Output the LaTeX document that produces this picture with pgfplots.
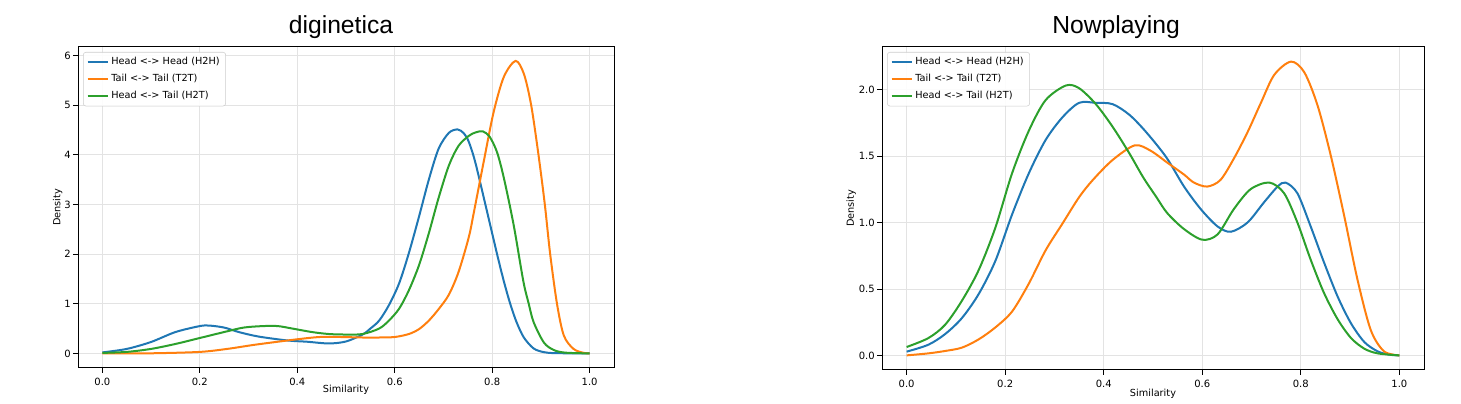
\documentclass[border=0pt]{standalone}
\usepackage{pgfplots}
\pgfplotsset{compat=1.18}
\usepackage{fontspec}
\setmainfont{DejaVu Sans}
\newfontfamily\titlefont{Liberation Sans}
\definecolor{tabblue}{HTML}{1F77B4}
\definecolor{taborange}{HTML}{FF7F0E}
\definecolor{tabgreen}{HTML}{2CA02C}
\pgfplotsset{
  kde/.style={
    anchor=south west, scale only axis,
    xmin=-0.05, xmax=1.05,
    xtick={0,0.2,0.4,0.6,0.8,1.0},
    xticklabels={0.0,0.2,0.4,0.6,0.8,1.0},
    xtick pos=bottom, ytick pos=left,
    tick align=outside, major tick length=3.75pt,
    tick style={black, line width=0.6pt},
    axis line style={black, line width=0.75pt},
    grid=major, grid style={gray!22, line width=0.6pt},
    ticklabel style={font=\fontsize{7.5}{9}\selectfont},
    yticklabel style={inner xsep=1.5pt},
    label style={font=\fontsize{7.3}{8.8}\selectfont},
    xlabel={Similarity}, ylabel={Density},
    legend cell align=left,
    legend style={at={(0,1)}, anchor=north west, xshift=3.75pt, yshift=-3.75pt,
      draw=black!20, rounded corners=2pt, fill=white, fill opacity=0.9, text opacity=1,
      font=\fontsize{7.3}{8.8}\selectfont, row sep=1.6pt, inner xsep=2.5pt, inner ysep=2pt},
    legend image code/.code={\draw[#1] (0pt,0pt) -- (15pt,0pt);},
    every axis plot/.append style={line width=1.5pt, smooth},
  }
}
\begin{document}
\begin{tikzpicture}
\path (0,0) rectangle (1095.75pt,299.25pt);
\node[font=\titlefont\fontsize{18.5}{20}\selectfont] at (255.75pt,279pt) {diginetica};
\node[font=\titlefont\fontsize{18.5}{20}\selectfont] at (837pt,279pt) {Nowplaying};
\begin{axis}[kde, at={(58.5pt,23.25pt)}, width=402pt, height=240.75pt,
  ymin=-0.294, ymax=6.17, ytick={0,1,2,3,4,5,6}, yticklabels={0,1,2,3,4,5,6},
  ylabel style={at={(axis description cs:-0.038,0.5)}, anchor=center},
  xlabel style={at={(axis description cs:0.5,-0.0685)}, anchor=center}]
\addplot[tabblue] coordinates {
(0,0.02) (0.05,0.09) (0.10,0.23) (0.15,0.43) (0.20,0.55) (0.22,0.56) (0.25,0.52)
(0.28,0.43) (0.32,0.34) (0.38,0.26) (0.42,0.235) (0.465,0.20) (0.50,0.24) (0.534,0.38)
(0.55,0.50) (0.568,0.66) (0.588,0.97) (0.609,1.41) (0.629,2.02) (0.65,2.76) (0.67,3.50)
(0.69,4.12) (0.711,4.44) (0.729,4.51) (0.742,4.43) (0.752,4.26) (0.765,3.86) (0.786,3.0)
(0.81,2.0) (0.824,1.45) (0.837,1.0) (0.85,0.63) (0.865,0.32) (0.885,0.10) (0.906,0.025)
(0.93,0.005) (1.0,0.0)};
\addlegendentry{Head <-> Head (H2H)}
\addplot[taborange] coordinates {
(0,0.0) (0.10,0.002) (0.20,0.03) (0.256,0.09) (0.31,0.17) (0.364,0.24) (0.405,0.29)
(0.446,0.33) (0.49,0.33) (0.534,0.32) (0.568,0.32) (0.60,0.33) (0.629,0.39) (0.65,0.49)
(0.67,0.66) (0.69,0.89) (0.711,1.18) (0.731,1.64) (0.752,2.34) (0.762,2.82)
(0.783,3.88) (0.803,4.86) (0.824,5.57) (0.848,5.89) (0.865,5.63) (0.880,5.0) (0.895,4.0)
(0.908,3.0) (0.919,2.0) (0.933,1.0) (0.947,0.36) (0.967,0.09) (0.988,0.01) (1.0,0.0)};
\addlegendentry{Tail <-> Tail (T2T)}
\addplot[tabgreen] coordinates {
(0,0.01) (0.05,0.03) (0.10,0.09) (0.15,0.19) (0.20,0.31) (0.25,0.43) (0.29,0.52)
(0.33,0.55) (0.36,0.55) (0.39,0.50) (0.43,0.43) (0.465,0.39) (0.50,0.38) (0.534,0.39)
(0.568,0.50) (0.588,0.66) (0.609,0.90) (0.629,1.27) (0.65,1.78) (0.67,2.42) (0.69,3.13)
(0.711,3.78) (0.731,4.18) (0.752,4.38) (0.766,4.45) (0.781,4.47) (0.795,4.36)
(0.81,4.05) (0.824,3.53) (0.844,2.59) (0.864,1.45) (0.875,1.0) (0.885,0.63) (0.906,0.22)
(0.926,0.07) (0.95,0.015) (1.0,0.0)};
\addlegendentry{Head <-> Tail (H2T)}
\end{axis}
\begin{axis}[kde, at={(661.5pt,21.75pt)}, width=406.5pt, height=242.25pt,
  ymin=-0.11, ymax=2.32, ytick={0,0.5,1,1.5,2},
  yticklabels={0.0,0.5,1.0,1.5,2.0},
  ylabel style={at={(axis description cs:-0.057,0.5)}, anchor=center},
  xlabel style={at={(axis description cs:0.5,-0.074)}, anchor=center}]
\addplot[tabblue] coordinates {
(0,0.028) (0.044,0.08) (0.078,0.16) (0.112,0.28) (0.146,0.46) (0.18,0.71) (0.214,1.06)
(0.248,1.37) (0.282,1.62) (0.316,1.79) (0.35,1.90) (0.384,1.90) (0.418,1.89)
(0.452,1.81) (0.486,1.68) (0.527,1.49) (0.563,1.27) (0.597,1.10) (0.631,0.97)
(0.658,0.93) (0.692,1.0) (0.725,1.15) (0.753,1.27) (0.769,1.30) (0.793,1.22)
(0.82,0.97) (0.847,0.70) (0.875,0.44) (0.902,0.24) (0.929,0.10) (0.956,0.03)
(0.98,0.005) (1.0,0.0)};
\addlegendentry{Head <-> Head (H2H)}
\addplot[taborange] coordinates {
(0,0.0) (0.044,0.015) (0.078,0.033) (0.112,0.058) (0.146,0.12) (0.18,0.21) (0.214,0.33)
(0.248,0.54) (0.282,0.79) (0.316,0.99) (0.35,1.19) (0.378,1.32) (0.418,1.47)
(0.463,1.58) (0.495,1.54) (0.529,1.45) (0.563,1.36) (0.583,1.30) (0.61,1.27)
(0.637,1.32) (0.664,1.48) (0.692,1.68) (0.719,1.90) (0.746,2.11) (0.78,2.21)
(0.807,2.13) (0.834,1.88) (0.861,1.50) (0.888,1.05) (0.915,0.57) (0.942,0.19)
(0.969,0.03) (1.0,0.0)};
\addlegendentry{Tail <-> Tail (T2T)}
\addplot[tabgreen] coordinates {
(0,0.063) (0.044,0.13) (0.078,0.23) (0.112,0.41) (0.146,0.64) (0.18,0.96) (0.214,1.37)
(0.248,1.69) (0.282,1.92) (0.323,2.03) (0.35,2.01) (0.384,1.89) (0.418,1.72)
(0.452,1.52) (0.48,1.34) (0.507,1.19) (0.529,1.07) (0.563,0.95) (0.60,0.87)
(0.631,0.91) (0.664,1.10) (0.698,1.25) (0.736,1.30) (0.766,1.22) (0.793,1.0)
(0.82,0.72) (0.847,0.47) (0.875,0.27) (0.902,0.13) (0.929,0.05) (0.956,0.015)
(1.0,0.0)};
\addlegendentry{Head <-> Tail (H2T)}
\end{axis}
\end{tikzpicture}
\end{document}
